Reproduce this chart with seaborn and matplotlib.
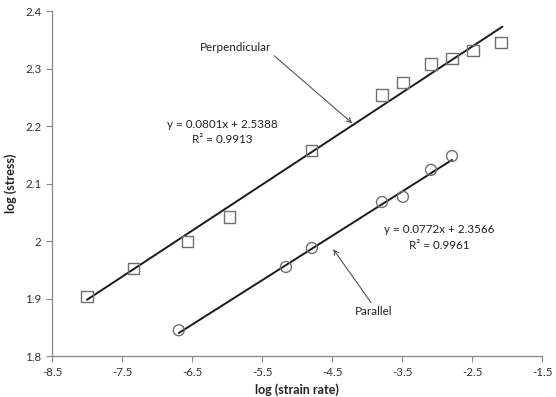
import numpy as np
import pandas as pd
import seaborn as sns
import matplotlib.pyplot as plt

# perpendicular data (squares)
perp_x = [-8.0, -7.34, -6.56, -5.97, -4.79, -3.79, -3.49, -3.09, -2.79, -2.49, -2.09]
perp_y = [1.903, 1.953, 2.000, 2.042, 2.157, 2.254, 2.276, 2.308, 2.318, 2.332, 2.346]
# parallel data (circles)
par_x = [-6.69, -5.16, -4.79, -3.79, -3.49, -3.09, -2.79]
par_y = [1.845, 1.955, 1.988, 2.068, 2.077, 2.124, 2.148]

# trendline coefficients shown on chart
perp_fit = (0.0801, 2.5388)
par_fit = (0.0772, 2.3566)
perp_range = [-8.0, -2.07]
par_range = [-6.69, -2.79]

sns.set_style("white")
plt.rcParams['font.family'] = ['Lato', 'DejaVu Sans']

fig = plt.figure(figsize=(5.56, 3.97), dpi=100)
ax = fig.add_axes([0.0935, 0.103, 0.882, 0.869])

df_perp = pd.DataFrame({"x": perp_x, "y": perp_y})
df_par = pd.DataFrame({"x": par_x, "y": par_y})

# fit lines
lx = np.array(perp_range)
sns.lineplot(x=lx, y=perp_fit[0] * lx + perp_fit[1], color="#1a1a1a", lw=1.4, ax=ax)
lx2 = np.array(par_range)
sns.lineplot(x=lx2, y=par_fit[0] * lx2 + par_fit[1], color="#1a1a1a", lw=1.4, ax=ax)

sns.scatterplot(data=df_perp, x="x", y="y", marker="s", s=65, facecolor="none",
                edgecolor="#707070", linewidth=1.0, ax=ax, zorder=3)
sns.scatterplot(data=df_par, x="x", y="y", marker="o", s=62, facecolor="none",
                edgecolor="#707070", linewidth=1.0, ax=ax, zorder=3)

ax.set_xlim(-8.5, -1.5)
ax.set_ylim(1.8, 2.4)
ax.set_xticks(np.arange(-8.5, -1.4, 1.0))
ax.set_yticks([1.8, 1.9, 2.0, 2.1, 2.2, 2.3, 2.4])
ax.set_xticklabels(["-8.5", "-7.5", "-6.5", "-5.5", "-4.5", "-3.5", "-2.5", "-1.5"])
ax.set_yticklabels(["1.8", "1.9", "2", "2.1", "2.2", "2.3", "2.4"])
ax.tick_params(axis="both", direction="out", length=4, width=0.8, color="#888888",
               labelsize=8.3, labelcolor="#333333", bottom=True, left=True)
for s in ["top", "right"]:
    ax.spines[s].set_visible(False)
for s in ["left", "bottom"]:
    ax.spines[s].set_color("#888888")
    ax.spines[s].set_linewidth(0.9)

ax.set_xlabel("log (strain rate)", fontsize=9, fontweight="bold", color="#222222", labelpad=4)
ax.set_ylabel("log (stress)", fontsize=9, fontweight="bold", color="#222222", labelpad=6)

txt = dict(fontsize=8.4, color="#222222", ha="center", va="center")
ax.text(-6.064, 2.202, "y = 0.0801x + 2.5388", **txt)
ax.text(-6.064, 2.177, "R² = 0.9913", **txt)
ax.text(-2.97, 2.021, "y = 0.0772x + 2.3566", **txt)
ax.text(-2.97, 1.993, "R² = 0.9961", **txt)

arr = dict(arrowstyle="->", color="#555555", lw=0.8)
ax.annotate("Perpendicular", xy=(-4.214, 2.205), xytext=(-5.886, 2.337),
            arrowprops=dict(arr, shrinkA=0, shrinkB=0, relpos=(1.0, 0.0)), **txt)
ax.annotate("Parallel", xy=(-4.486, 1.986), xytext=(-3.914, 1.878),
            arrowprops=dict(arr, shrinkA=0, shrinkB=0, relpos=(0.5, 1.0)), **txt)

fig.savefig("out.png", dpi=100)
